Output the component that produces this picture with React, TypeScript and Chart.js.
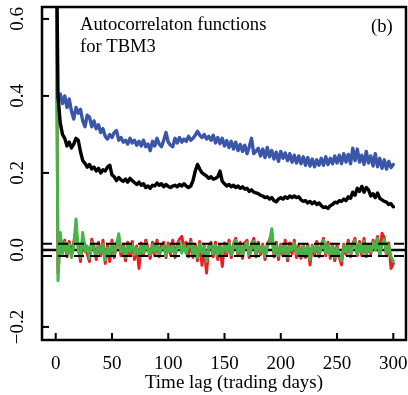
import React, { useEffect, useRef } from "react";
import { Chart, registerables } from "chart.js";

Chart.register(...registerables);

// Time lags (trading days), sampled every 2 days
const LAGS: number[] = Array.from({ length: 151 }, (_, i) => i * 2);

const BLUE: (number | null)[] = [
  null, 0.395, 0.405, 0.38, 0.4, 0.37, 0.392, 0.36, 0.34, 0.37,
  0.355, 0.365, 0.335, 0.32, 0.35, 0.345, 0.32, 0.335, 0.315, 0.325,
  0.305, 0.315, 0.295, 0.288, 0.3, 0.292, 0.305, 0.31, 0.285, 0.292,
  0.28, 0.285, 0.275, 0.29, 0.278, 0.285, 0.272, 0.282, 0.27, 0.285,
  0.268, 0.275, 0.258, 0.282, 0.27, 0.29, 0.275, 0.268, 0.285, 0.305,
  0.28, 0.272, 0.268, 0.29, 0.278, 0.292, 0.28, 0.288, 0.282, 0.295,
  0.285, 0.29, 0.298, 0.308, 0.298, 0.292, 0.3, 0.288, 0.295, 0.285,
  0.298, 0.278, 0.292, 0.276, 0.29, 0.27, 0.284, 0.266, 0.282, 0.262,
  0.28, 0.258, 0.274, 0.256, 0.272, 0.25, 0.268, 0.29, 0.25, 0.256,
  0.264, 0.244, 0.262, 0.24, 0.266, 0.242, 0.258, 0.236, 0.254, 0.23,
  0.256, 0.238, 0.252, 0.232, 0.25, 0.228, 0.246, 0.226, 0.244, 0.224,
  0.242, 0.22, 0.24, 0.218, 0.236, 0.216, 0.234, 0.22, 0.238, 0.22,
  0.242, 0.222, 0.238, 0.224, 0.244, 0.226, 0.246, 0.224, 0.25, 0.228,
  0.248, 0.224, 0.264, 0.232, 0.262, 0.228, 0.246, 0.222, 0.256, 0.226,
  0.244, 0.218, 0.25, 0.216, 0.238, 0.212, 0.234, 0.21, 0.23, 0.214,
  0.222,
];

const BLACK: number[] = [
  1.0, 0.4, 0.33, 0.3, 0.29, 0.27, 0.28, 0.265, 0.275, 0.29,
  0.285, 0.255, 0.232, 0.225, 0.215, 0.222, 0.21, 0.215, 0.205, 0.212,
  0.2, 0.208, 0.205, 0.215, 0.22, 0.195, 0.19, 0.18, 0.188, 0.182,
  0.178, 0.184, 0.176, 0.186, 0.18, 0.175, 0.17, 0.176, 0.168, 0.172,
  0.162, 0.166, 0.16, 0.168, 0.166, 0.174, 0.168, 0.172, 0.164, 0.17,
  0.165, 0.162, 0.166, 0.168, 0.164, 0.17, 0.166, 0.172, 0.166, 0.162,
  0.166, 0.18, 0.205, 0.222, 0.21, 0.2, 0.196, 0.192, 0.186, 0.19,
  0.184, 0.186, 0.19, 0.205, 0.178, 0.172, 0.166, 0.17, 0.164, 0.168,
  0.162, 0.166, 0.16, 0.164, 0.158, 0.16, 0.152, 0.156, 0.15, 0.148,
  0.146, 0.142, 0.14, 0.136, 0.138, 0.132, 0.136, 0.128, 0.125, 0.132,
  0.136, 0.132, 0.138, 0.134, 0.14, 0.136, 0.14, 0.136, 0.138, 0.13,
  0.126, 0.128, 0.122, 0.126, 0.12, 0.125, 0.118, 0.122, 0.115, 0.11,
  0.112, 0.108, 0.115, 0.118, 0.124, 0.122, 0.128, 0.126, 0.132, 0.128,
  0.138, 0.134, 0.15, 0.142, 0.16, 0.152, 0.165, 0.15, 0.162, 0.156,
  0.14, 0.146, 0.136, 0.148, 0.134, 0.13, 0.126, 0.124, 0.118, 0.12,
  0.112,
];

const GREEN: number[] = [
  1.0, -0.08, 0.045, -0.01, 0.02, -0.01, 0.015, -0.02, 0.01, 0.08,
  0.0, -0.02, 0.045, -0.005, 0.01, -0.022, 0.02, 0.0, -0.015, 0.012,
  -0.008, 0.015, -0.026, 0.005, -0.012, 0.018, -0.01, 0.01, 0.042, -0.005,
  0.008, -0.02, 0.012, -0.005, 0.015, -0.012, 0.005, -0.018, 0.01, -0.008,
  0.018, 0.0, -0.012, 0.012, -0.006, 0.015, -0.01, 0.004, 0.012, -0.015,
  0.01, -0.005, 0.014, -0.012, 0.006, 0.02, -0.008, 0.012, -0.01, 0.01,
  0.02, -0.012, 0.008, -0.02, 0.015, -0.008, 0.01, -0.03, 0.005, 0.015,
  -0.01, 0.012, -0.015, 0.008, -0.01, 0.012, -0.005, 0.018, -0.012, 0.01,
  0.025, -0.008, 0.012, -0.015, 0.01, 0.02, -0.012, 0.005, 0.022, -0.01,
  0.015, -0.005, 0.01, -0.018, 0.008, 0.02, 0.055, -0.01, 0.012, -0.015,
  0.01, -0.008, 0.015, -0.02, 0.01, 0.0, 0.018, -0.01, 0.005, -0.015,
  0.01, -0.012, 0.008, -0.025, 0.01, -0.005, 0.015, -0.01, 0.005, 0.025,
  -0.008, 0.012, -0.015, 0.01, -0.02, 0.005, -0.01, -0.028, 0.01, -0.005,
  0.018, -0.012, 0.008, 0.025, -0.01, 0.015, -0.008, 0.022, -0.012, 0.01,
  -0.005, 0.02, 0.0, 0.03, -0.012, 0.015, 0.028, -0.01, 0.012, -0.018,
  -0.03,
];

const RED: number[] = [
  1.0, -0.06, 0.03, 0.005, 0.025, -0.018, 0.022, -0.012, 0.02, 0.05,
  0.01, -0.03, 0.03, 0.012, -0.01, -0.03, 0.028, 0.008, -0.025, 0.02,
  -0.015, 0.025, -0.035, 0.012, -0.03, 0.025, -0.02, 0.018, 0.03, -0.015,
  0.015, -0.028, 0.02, -0.015, 0.022, -0.025, 0.01, -0.048, 0.018, -0.015,
  0.025, 0.005, -0.022, 0.02, -0.015, 0.025, -0.018, 0.012, 0.02, -0.02,
  0.018, -0.012, 0.025, -0.02, 0.015, 0.028, 0.035, 0.005, 0.02, -0.018,
  0.028, -0.02, 0.015, -0.028, 0.022, -0.04, 0.012, -0.06, 0.01, 0.02,
  -0.018, 0.02, -0.025, 0.015, -0.043, 0.018, -0.012, 0.025, -0.02, 0.015,
  0.03, -0.015, 0.02, -0.022, 0.018, 0.025, -0.02, 0.012, 0.03, -0.018,
  0.02, -0.012, 0.015, -0.025, 0.015, 0.025, 0.045, -0.018, 0.02, -0.025,
  0.015, -0.015, 0.025, -0.028, 0.018, -0.01, 0.025, -0.02, 0.012, -0.022,
  0.015, -0.02, 0.015, -0.039, 0.012, -0.015, 0.022, -0.018, 0.012, 0.03,
  -0.015, 0.02, -0.022, 0.015, -0.028, 0.012, -0.018, -0.039, 0.015, -0.012,
  0.025, -0.018, 0.015, 0.03, -0.015, 0.022, -0.015, 0.03, -0.018, 0.015,
  -0.01, 0.025, 0.005, 0.035, -0.015, 0.043, 0.032, -0.015, 0.018, -0.048,
  -0.035,
];

const X_TICKS = [0, 50, 100, 150, 200, 250, 300];
const Y_TICKS = [-0.2, 0, 0.2, 0.4, 0.6];
const Y_TICK_LABELS = ["\u22120.2", "0.0", "0.2", "0.4", "0.6"];
const CI_BAND = 0.016;
const X_TITLE = "Time lag (trading days)";
const NOTE_LINES = ["Autocorrelaton functions", "for TBM3"];
const PANEL_TAG = "(b)";

const FONT = "'Liberation Serif', 'Times New Roman', serif";

const toPoints = (vals: (number | null)[]) =>
  LAGS.map((lag, i) => ({ x: lag, y: vals[i] }));

const decorPlugin = {
  id: "decor",
  beforeDatasetsDraw(chart: any) {
    const { ctx, chartArea: a, scales } = chart;
    const y0 = scales.y.getPixelForValue(0);
    ctx.save();
    ctx.strokeStyle = "#000";
    ctx.lineWidth = 2.5;
    ctx.beginPath();
    ctx.moveTo(a.left, y0);
    ctx.lineTo(a.right, y0);
    ctx.stroke();
    ctx.restore();
  },
  afterDatasetsDraw(chart: any) {
    const { ctx, chartArea: a, scales } = chart;
    const xs = scales.x;
    const ys = scales.y;
    ctx.save();
    ctx.strokeStyle = "#000";
    ctx.lineWidth = 2;
    ctx.setLineDash([10, 6]);
    [CI_BAND, -CI_BAND].forEach((v) => {
      const py = ys.getPixelForValue(v);
      ctx.beginPath();
      ctx.moveTo(a.left, py);
      ctx.lineTo(a.right, py);
      ctx.stroke();
    });
    ctx.setLineDash([]);
    ctx.lineWidth = 2.5;
    ctx.strokeRect(a.left, a.top, a.right - a.left, a.bottom - a.top);
    ctx.lineWidth = 2;
    X_TICKS.forEach((v) => {
      const px = xs.getPixelForValue(v);
      ctx.beginPath();
      ctx.moveTo(px, a.bottom);
      ctx.lineTo(px, a.bottom - 7);
      ctx.stroke();
    });
    Y_TICKS.forEach((v) => {
      const py = ys.getPixelForValue(v);
      ctx.beginPath();
      ctx.moveTo(a.left, py);
      ctx.lineTo(a.left + 7, py);
      ctx.stroke();
    });
    ctx.fillStyle = "#000";
    ctx.font = `19px ${FONT}`;
    ctx.textAlign = "center";
    ctx.textBaseline = "alphabetic";
    X_TICKS.forEach((v) => {
      ctx.fillText(String(v), xs.getPixelForValue(v), 369);
    });
    Y_TICKS.forEach((v, i) => {
      const py = ys.getPixelForValue(v);
      ctx.save();
      ctx.translate(23, py);
      ctx.rotate(-Math.PI / 2);
      ctx.textAlign = "center";
      ctx.textBaseline = "alphabetic";
      ctx.fillText(Y_TICK_LABELS[i], 0, 0);
      ctx.restore();
    });
    ctx.fillText(X_TITLE, 234, 388);
    ctx.textAlign = "left";
    ctx.font = `18.6px ${FONT}`;
    ctx.fillText(NOTE_LINES[0], 80, 30);
    ctx.fillText(NOTE_LINES[1], 80, 52);
    ctx.fillText(PANEL_TAG, 371, 32);
    ctx.restore();
  },
};

export default function App() {
  const ref = useRef<HTMLCanvasElement | null>(null);
  useEffect(() => {
    if (!ref.current) return;
    const common = {
      pointRadius: 0,
      tension: 0,
      borderJoinStyle: "round" as const,
      borderCapStyle: "round" as const,
    };
    const chart = new Chart(ref.current, {
      type: "line",
      data: {
        datasets: [
          { data: toPoints(BLACK), borderColor: "#000000", borderWidth: 3.4, ...common },
          { data: toPoints(BLUE), borderColor: "#3a56a8", borderWidth: 3.4, ...common },
          { data: toPoints(GREEN), borderColor: "#46b447", borderWidth: 3, ...common },
          { data: toPoints(RED), borderColor: "#ee1c24", borderWidth: 3, ...common },
        ],
      },
      options: {
        animation: false,
        responsive: false,
        maintainAspectRatio: false,
        layout: { padding: { left: 42, right: 2, top: 7, bottom: 55 } },
        plugins: {
          legend: { display: false },
          tooltip: { enabled: false },
        },
        scales: {
          x: { type: "linear", display: false, min: -12.2, max: 311.3 },
          y: { type: "linear", display: false, min: -0.234, max: 0.631 },
        },
      },
      plugins: [decorPlugin],
    });
    return () => chart.destroy();
  }, []);
  return (
    <div style={{ position: "absolute", left: 0, top: 0, width: 408, height: 395, background: "#fff" }}>
      <canvas ref={ref} width={408} height={395} style={{ width: 408, height: 395 }} />
    </div>
  );
}
